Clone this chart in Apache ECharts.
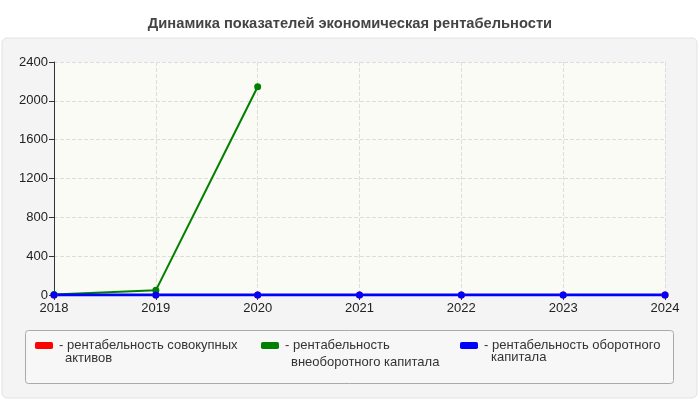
<!DOCTYPE html>
<html><head><meta charset="utf-8">
<script src="https://cdn.jsdelivr.net/npm/echarts@6/dist/echarts.min.js"></script>
<style>html,body{margin:0;padding:0;background:#fff}#c{width:700px;height:400px}</style>
</head><body><div id="c"></div>
<script>
var years = ['2018','2019','2020','2021','2022','2023','2024'];
var totalAssets = [0, 0, 0, 0, 0, 0, 0];
var fixedCapital = [5, 48, 2145, null, null, null, null];
var workingCapital = [0, 0, 0, 0, 0, 0, 0];
var seriesNames = ['рентабельность совокупных', 'рентабельность', 'рентабельность оборотного'];
var seriesNames2 = ['активов', 'внеоборотного капитала', 'капитала'];
var yTicks = [0, 400, 800, 1200, 1600, 2000, 2400];

var FONT = 'Liberation Sans, Arial, sans-serif';
var chart = echarts.init(document.getElementById('c'));
function mk(name, data, color, w) {
  return {name: name, type: 'line', data: data, symbol: 'circle', symbolSize: 7,
    itemStyle: {color: color}, lineStyle: {color: color, width: w}, connectNulls: false};
}
function lg(i, left) {
  return {
    left: left, top: 334, itemWidth: 18, itemHeight: 7, icon: 'roundRect', itemGap: 0,
    formatter: function (n) { return '- ' + n; },
    textStyle: {fontSize: 13, color: '#333', fontFamily: FONT, lineHeight: 13, padding: [0, 0, 0, 1]},
    data: [seriesNames[i]]
  };
}
function line2(i, x, y) {
  return {type: 'text', x: x, y: y, style: {text: seriesNames2[i], font: '13px ' + FONT, fill: '#333', textVerticalAlign: 'middle'}};
}
chart.setOption({
  animation: false,
  backgroundColor: '#fff',
  title: {text: 'Динамика показателей экономическая рентабельности', left: 'center', top: 11,
    textStyle: {fontSize: 14.7, fontWeight: 'bold', color: '#444', fontFamily: FONT}},
  graphic: [
    {type: 'rect', z: -10, shape: {x: 2, y: 38, width: 695, height: 360, r: 5},
      style: {fill: '#f4f4f4', stroke: '#e2e2e2', lineWidth: 1}},
    {type: 'rect', z: -5, shape: {x: 25.5, y: 330.5, width: 648, height: 53, r: 3},
      style: {fill: '#f7f7f7', stroke: '#aaa', lineWidth: 1}},
    line2(0, 65, 358),
    line2(1, 291, 362),
    line2(2, 491, 357)
  ],
  grid: {left: 54, right: 35, top: 62, bottom: 105, show: true, backgroundColor: '#fbfbf6', borderWidth: 0},
  legend: [lg(0, 30), lg(1, 256), lg(2, 455)],
  xAxis: {type: 'category', data: years, boundaryGap: false,
    axisLine: {lineStyle: {color: '#333'}},
    axisTick: {show: true, alignWithLabel: true, lineStyle: {color: '#333'}},
    axisLabel: {color: '#222', fontSize: 13, fontFamily: FONT, margin: 7},
    splitLine: {show: true, lineStyle: {color: '#ddd', type: 'dashed'}}},
  yAxis: {type: 'value', min: yTicks[0], max: yTicks[yTicks.length - 1], interval: 400,
    axisLine: {show: true, lineStyle: {color: '#333'}},
    axisTick: {show: true, lineStyle: {color: '#333'}},
    axisLabel: {color: '#222', fontSize: 13, fontFamily: FONT, margin: 6, formatter: function (v) { return String(v); }},
    splitLine: {show: true, lineStyle: {color: '#ddd', type: 'dashed'}}},
  series: [
    mk(seriesNames[0], totalAssets, '#ff0000', 2),
    mk(seriesNames[1], fixedCapital, '#008000', 2),
    mk(seriesNames[2], workingCapital, '#0000ff', 3)
  ]
});
</script></body></html>
